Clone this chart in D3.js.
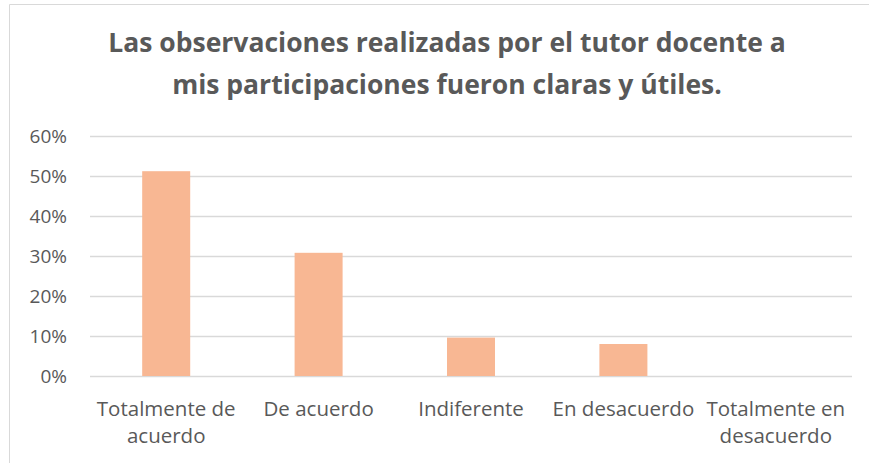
<!DOCTYPE html>
<html>
<head>
<meta charset="utf-8">
<script src="https://cdn.jsdelivr.net/npm/d3@7"></script>
<style>
  body { margin: 0; background: #fff; }
  text { font-family: "Open Sans", sans-serif; fill: #595959; }
</style>
</head>
<body>
<div id="chart"></div>
<script>
// chart data
var titleLines = ["Las observaciones realizadas por el tutor docente a",
                  "mis participaciones fueron claras y útiles."];
var categories = ["Totalmente de acuerdo", "De acuerdo", "Indiferente",
                  "En desacuerdo", "Totalmente en desacuerdo"];
var values = [0.512, 0.308, 0.096, 0.080, 0];
var yTicks = [0, 0.1, 0.2, 0.3, 0.4, 0.5, 0.6];

var svgWidth = 869, svgHeight = 463;
var margin = { top: 136, right: 17, bottom: 87, left: 90 };
var width = svgWidth - margin.left - margin.right;
var height = svgHeight - margin.top - margin.bottom;

var svg = d3.select("#chart").append("svg")
  .attr("width", svgWidth)
  .attr("height", svgHeight);

// outer chart border (top and left visible)
svg.append("path")
  .attr("d", "M9.5,463 V4.5 H869")
  .attr("fill", "none")
  .attr("stroke", "#d9d9d9")
  .attr("stroke-width", 1);

// title
svg.append("g").selectAll("text")
  .data(titleLines)
  .enter().append("text")
  .attr("x", 447)
  .attr("y", (d, i) => 52 + i * 42)
  .attr("text-anchor", "middle")
  .style("font-size", "26.5px")
  .style("font-weight", "bold")
  .text(d => d);

var chartGroup = svg.append("g")
  .attr("transform", `translate(${margin.left}, ${margin.top})`);

var xScale = d3.scaleBand()
  .domain(categories)
  .range([0, width])
  .padding(0);

var yScale = d3.scaleLinear()
  .domain([0, 0.6])
  .range([height, 0]);

// gridlines
chartGroup.append("g")
  .selectAll("line")
  .data(yTicks)
  .enter().append("line")
  .attr("x1", 0)
  .attr("x2", width)
  .attr("y1", d => Math.round(yScale(d)) + 0.5)
  .attr("y2", d => Math.round(yScale(d)) + 0.5)
  .attr("stroke", "#d9d9d9")
  .attr("stroke-width", 1.3);

// y axis labels
var leftAxis = d3.axisLeft(yScale)
  .tickValues(yTicks)
  .tickFormat(d3.format(".0%"))
  .tickSize(0)
  .tickPadding(23);

chartGroup.append("g")
  .call(leftAxis)
  .call(g => g.select(".domain").remove())
  .selectAll("text")
  .style("font-size", "19px")
  .style("font-family", "'Open Sans', sans-serif")
  .attr("fill", "#595959");

// bars
var barWidth = xScale.bandwidth() * 0.315;
chartGroup.selectAll("rect")
  .data(values)
  .enter().append("rect")
  .attr("x", (d, i) => xScale(categories[i]) + (xScale.bandwidth() - barWidth) / 2)
  .attr("y", d => yScale(d))
  .attr("width", barWidth)
  .attr("height", d => height - yScale(d))
  .attr("fill", "#f8b793");

// x axis labels, wrapped to the band width
var bottomAxis = d3.axisBottom(xScale).tickSize(0).tickPadding(25);
chartGroup.append("g")
  .attr("transform", `translate(0, ${height})`)
  .call(bottomAxis)
  .call(g => g.select(".domain").remove())
  .selectAll("text")
  .style("font-size", "20.5px")
  .style("font-family", "'Open Sans', sans-serif")
  .attr("fill", "#595959")
  .call(wrap, xScale.bandwidth());

function wrap(texts, maxWidth) {
  texts.each(function() {
    var text = d3.select(this);
    var words = text.text().split(/\s+/);
    var y = text.attr("y");
    var dy = parseFloat(text.attr("dy"));
    var line = [];
    var lineNo = 0;
    text.text(null);
    var tspan = text.append("tspan").attr("x", 0).attr("y", y).attr("dy", dy + "em");
    words.forEach(function(word) {
      line.push(word);
      tspan.text(line.join(" "));
      if (tspan.node().getComputedTextLength() > maxWidth && line.length > 1) {
        line.pop();
        tspan.text(line.join(" "));
        line = [word];
        lineNo++;
        tspan = text.append("tspan").attr("x", 0).attr("y", y)
          .attr("dy", (dy + lineNo * 1.32) + "em").text(word);
      }
    });
  });
}
</script>
</body>
</html>
